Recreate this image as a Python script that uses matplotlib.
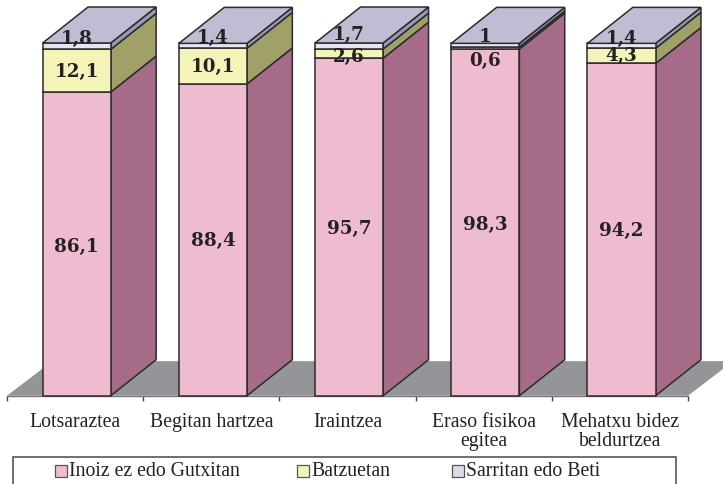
import matplotlib
matplotlib.use("Agg")
import matplotlib.pyplot as plt
from matplotlib.patches import Polygon, Rectangle

categories = ["Lotsaraztea", "Begitan hartzea", "Iraintzea", "Eraso fisikoa\negitea", "Mehatxu bidez\nbeldurtzea"]
series_names = ["Inoiz ez edo Gutxitan", "Batzuetan", "Sarritan edo Beti"]
inoiz = [86.1, 88.4, 95.7, 98.3, 94.2]
batzuetan = [12.1, 10.1, 2.6, 0.6, 4.3]
sarritan = [1.8, 1.4, 1.7, 1.0, 1.4]

W, H = 723, 485
front = ["#EEBBD0", "#F4F4B8", "#E6E6F2"]
side = ["#A66B88", "#A0A068", "#9C98B8"]
legend_cols = ["#EEBBD0", "#F4F4B8", "#DCDCE8"]
top_col = "#C0BCD4"
floor_col = "#939598"
edge = "#2b2b2b"
bw = 0.5
dx = 0.333   # depth of the 3d effect in category units
dy = 10.2    # and in percent units
floor_dy = 9.8
shift = 0.012

fig = plt.figure(figsize=(W / 100, H / 100), dpi=100)
# axes spans the axis ticks: 7..688 px across, 0..100 % is 396.7..44 px
ax = fig.add_axes([7 / W, 1 - 396.7 / H, 681 / W, 352.7 / H])
ax.set_xlim(-0.5, 4.5)
ax.set_ylim(0, 100)
ax.patch.set_visible(False)
for s in ["top", "right", "left"]:
    ax.spines[s].set_visible(False)
ax.spines["bottom"].set_color("#777777")
ax.spines["bottom"].set_linewidth(1)
ax.set_yticks([])
ax.set_xticks([i - 0.5 for i in range(6)])
ax.set_xticklabels([])
ax.tick_params(axis="x", length=3.5, width=1, color="#444444")

ax.add_patch(Polygon([(-0.5, 0), (-0.5 + dx, floor_dy), (4.5 + dx, floor_dy), (4.5, 0)],
                     closed=True, fc=floor_col, ec="none", clip_on=False, zorder=1))


def draw_bar(i, vals):
    x0 = i + shift - bw / 2
    x1 = i + shift + bw / 2
    base = 0
    for k, v in enumerate(vals):
        top = base + v
        ax.add_patch(Polygon([(x1, base), (x1 + dx, base + dy), (x1 + dx, top + dy), (x1, top)],
                             closed=True, fc=side[k], ec=edge, lw=1.1, clip_on=False, zorder=3))
        ax.add_patch(Rectangle((x0, base), bw, v, fc=front[k], ec=edge, lw=1.1, clip_on=False, zorder=3))
        base = top
    ax.add_patch(Polygon([(x0, base), (x0 + dx, base + dy), (x1 + dx, base + dy), (x1, base)],
                         closed=True, fc=top_col, ec=edge, lw=1.1, clip_on=False, zorder=3))


for i in range(len(categories)):
    draw_bar(i, [inoiz[i], batzuetan[i], sarritan[i]])

# label nudges in percent, some sit away from their segment centre
nudge_low = [-0.5, 0, -0.3, -0.5, 0]
nudge_mid = [0, 0, -0.8, -3.3, 0.2]
nudge_top = [2.2, 2.4, 3.5, 2.5, 2.3]
lab = dict(family="DejaVu Serif", weight="bold", fontsize=13.2, color="#222222",
           ha="center", va="center", zorder=5)
for i in range(len(categories)):
    a, b, c = inoiz[i], batzuetan[i], sarritan[i]
    ax.text(i + shift, a / 2 + nudge_low[i], str(a).replace(".", ","), **lab)
    ax.text(i + shift, a + b / 2 + nudge_mid[i], str(b).replace(".", ","), **lab)
    txt = str(c).replace(".", ",")
    if c == 1.0:
        txt = "1"
    ax.text(i + shift, a + b + c / 2 + nudge_top[i], txt, **lab)

for i, name in enumerate(categories):
    ax.text(i, -4.7, name, family="Liberation Serif", fontsize=14.2, color="#222222",
            ha="center", va="top", linespacing=0.97)


def px(x, y):
    return x / W, 1 - y / H


# legend box runs off the bottom of the picture
fig.patches.append(Rectangle(px(13, 486), 663 / W, 28.5 / H, transform=fig.transFigure,
                             fc="white", ec="#555555", lw=1.2, clip_on=False))
sw_x = [55, 297, 452]
for x, col, name in zip(sw_x, legend_cols, series_names):
    fig.patches.append(Rectangle(px(x, 478), 12 / W, 12 / H, transform=fig.transFigure,
                                 fc=col, ec="#555555", lw=0.9))
    fig.text(*px(x + 14, 472), name, family="Liberation Serif", fontsize=14.2, color="#222222",
             ha="left", va="center")

fig.savefig("out.png", dpi=100)
